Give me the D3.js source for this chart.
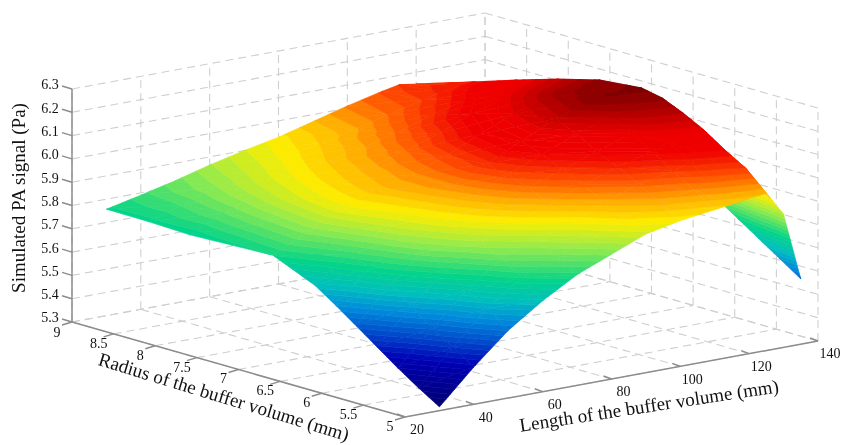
<!DOCTYPE html>
<html>
<head>
<meta charset="utf-8">
<script src="https://cdn.jsdelivr.net/npm/d3@7"></script>
<style>
  html, body { margin: 0; background: #fff; }
  text { font-family: "Liberation Serif", serif; fill: #111; }
</style>
</head>
<body>
<div id="chart"></div>
<script>
// Values
const lengthTicks = [20, 40, 60, 80, 100, 120, 140];
const radiusTicks = [5, 5.5, 6, 6.5, 7, 7.5, 8, 8.5, 9];
const signalTicks = [5.3, 5.4, 5.5, 5.6, 5.7, 5.8, 5.9, 6.0, 6.1, 6.2, 6.3];

const lengths = [30, 40, 50, 60, 70, 80, 90, 100, 110, 115, 120, 125, 130, 135];
const radii = [5, 5.25, 5.5, 5.75, 6, 6.25, 6.5, 7, 7.5, 8, 8.5, 9];

const signalR500 = [5.316, 5.46, 5.59, 5.69, 5.775, 5.835, 5.895, 5.925, 5.945, 5.955, 5.965, 5.975, 5.87, 5.58];
const signalR525 = [5.372, 5.52, 5.66, 5.765, 5.825, 5.88, 5.94, 5.98, 6.005, 6.025, 6.04, 6.058, 5.94, 5.64];
const signalR550 = [5.432, 5.575, 5.71, 5.82, 5.87, 5.92, 5.98, 6.03, 6.06, 6.085, 6.10, 6.11, 5.98, 5.70];
const signalR575 = [5.497, 5.645, 5.775, 5.865, 5.92, 5.975, 6.03, 6.08, 6.12, 6.145, 6.16, 6.17, 6.04, 5.76];
const signalR600 = [5.562, 5.715, 5.83, 5.90, 5.96, 6.02, 6.07, 6.12, 6.17, 6.20, 6.21, 6.217, 6.10, 5.82];
const signalR625 = [5.626, 5.76, 5.86, 5.925, 5.985, 6.05, 6.11, 6.17, 6.22, 6.24, 6.25, 6.256, 6.14, 5.87];
const signalR650 = [5.686, 5.79, 5.88, 5.94, 6.00, 6.07, 6.14, 6.21, 6.26, 6.27, 6.27, 6.274, 6.16, 5.92];
const signalR700 = [5.763, 5.84, 5.915, 5.965, 6.00, 6.05, 6.12, 6.18, 6.23, 6.245, 6.25, 6.257, 6.16, 5.97];
const signalR750 = [5.756, 5.83, 5.90, 5.945, 5.98, 6.02, 6.07, 6.13, 6.175, 6.19, 6.20, 6.21, 6.13, 5.96];
const signalR800 = [5.749, 5.815, 5.875, 5.92, 5.955, 5.985, 6.025, 6.07, 6.11, 6.13, 6.145, 6.155, 6.08, 5.94];
const signalR850 = [5.755, 5.80, 5.85, 5.89, 5.925, 5.955, 5.985, 6.025, 6.06, 6.08, 6.09, 6.096, 6.04, 5.92];
const signalR900 = [5.757, 5.79, 5.825, 5.865, 5.90, 5.93, 5.97, 6.01, 6.045, 6.06, 6.05, 6.036, 6.0, 5.90];
const signal = [signalR500, signalR525, signalR550, signalR575, signalR600, signalR625, signalR650, signalR700, signalR750, signalR800, signalR850, signalR900];

const width = 843, height = 445;
const bandCount = 56;

const svg = d3.select("#chart").append("svg")
  .attr("width", width)
  .attr("height", height)
  .style("display", "block")
  .style("filter", "blur(0.4px)");

// Fixed oblique view: each axis moves the point along its own screen vector
const lenX = d3.scaleLinear().domain([20, 140]).range([0, 413]);
const lenY = d3.scaleLinear().domain([20, 140]).range([0, -76]);
const radX = d3.scaleLinear().domain([5, 9]).range([0, -333]);
const radY = d3.scaleLinear().domain([5, 9]).range([0, -95]);
const sigY = d3.scaleLinear().domain([5.3, 6.3]).range([0, -233]);
const project = (l, r, s) => [405 + lenX(l) + radX(r), 417 + lenY(l) + radY(r) + sigY(s)];

// Jet-like map, cut into flat bands
const zMin = 5.31, zMax = 6.285;
const frac = d3.scaleLinear().domain([zMin, zMax]).range([0, 1]);
const colorStops = [0, 0.16, 0.225, 0.32, 0.385, 0.46, 0.55, 0.63, 0.69, 0.75, 0.82, 0.88, 0.92, 1];
const colorValues = ["#00006e", "#0000b4", "#003cc8", "#008cdc", "#00bebe", "#04d488", "#8cea50", "#fcee00", "#ffac00", "#ff5000", "#f00000", "#ee0000", "#c80000", "#720000"];
const jet = d3.scaleLinear().domain(colorStops).range(colorValues).interpolate(d3.interpolateRgb);
const thresholds = d3.range(bandCount + 1).map(i => frac.invert(i / bandCount));

const lineGray = "#cfcfcf", axisGray = "#8c8c8c";
const grid = svg.append("g").attr("fill", "none").attr("stroke", lineGray)
  .attr("stroke-width", 1.1).attr("stroke-dasharray", "8,5");

function gridLine(a, b) {
  grid.append("path").attr("d", d3.line()([project(...a), project(...b)]));
}
signalTicks.forEach(s => {
  gridLine([20, 9, s], [140, 9, s]);
  gridLine([140, 9, s], [140, 5, s]);
});
lengthTicks.forEach(l => {
  gridLine([l, 9, 5.3], [l, 9, 6.3]);
  gridLine([l, 5, 5.3], [l, 9, 5.3]);
});
radiusTicks.forEach(r => {
  gridLine([140, r, 5.3], [140, r, 6.3]);
  gridLine([20, r, 5.3], [140, r, 5.3]);
});

// Keep the part of a polygon on one side of a signal level
function clipLevel(poly, level, keepAbove) {
  const out = [];
  poly.forEach((p, i) => {
    const q = poly[(i + 1) % poly.length];
    const pIn = keepAbove ? p[2] >= level : p[2] <= level;
    const qIn = keepAbove ? q[2] >= level : q[2] <= level;
    if (pIn) out.push(p);
    if (pIn !== qIn) {
      const t = (level - p[2]) / (q[2] - p[2]);
      out.push([p[0] + t * (q[0] - p[0]), p[1] + t * (q[1] - p[1]), level]);
    }
  });
  return out;
}

const surface = svg.append("g");
function drawTriangle(tri) {
  for (let b = 0; b < bandCount; b++) {
    let poly = clipLevel(tri, thresholds[b], true);
    if (poly.length < 3) continue;
    poly = clipLevel(poly, thresholds[b + 1], false);
    if (poly.length < 3) continue;
    const c = jet((b + 0.5) / bandCount);
    surface.append("polygon")
      .attr("points", poly.map(p => project(...p).join(",")).join(" "))
      .attr("fill", c).attr("stroke", c).attr("stroke-width", 0.6);
  }
}

// Back to front: far radius and far length first
for (let j = radii.length - 2; j >= 0; j--) {
  for (let i = lengths.length - 2; i >= 0; i--) {
    const p00 = [lengths[i], radii[j], signal[j][i]];
    const p10 = [lengths[i + 1], radii[j], signal[j][i + 1]];
    const p01 = [lengths[i], radii[j + 1], signal[j + 1][i]];
    const p11 = [lengths[i + 1], radii[j + 1], signal[j + 1][i + 1]];
    drawTriangle([p10, p11, p01]);
    drawTriangle([p00, p10, p01]);
  }
}

// Axes
const axes = svg.append("g").attr("fill", "none").attr("stroke", axisGray).attr("stroke-width", 1.5);
function axisLine(a, b) {
  axes.append("path").attr("d", d3.line()([a, b]));
}
axisLine(project(20, 9, 5.3), project(20, 9, 6.3));
axisLine(project(20, 9, 5.3), project(20, 5, 5.3));
axisLine(project(20, 5, 5.3), project(140, 5, 5.3));

function tickText(p, str) {
  svg.append("text").attr("x", p[0]).attr("y", p[1]).attr("dy", "0.35em")
    .attr("text-anchor", "middle").attr("font-size", 14).text(str);
}
signalTicks.forEach(s => {
  const p = project(20, 9, s);
  axisLine(p, [p[0] - 10, p[1] - 3]);
  tickText([p[0] - 22, p[1] - 4.5], s.toFixed(1));
});
radiusTicks.forEach(r => {
  const p = project(20, r, 5.3);
  axisLine(p, [p[0] - 10, p[1] + 3]);
  tickText([p[0] - 15, p[1] + (r === 9 ? 10.5 : 9)], String(r));
});
lengthTicks.forEach(l => {
  const p = project(l, 5, 5.3);
  axisLine(p, [p[0] - 8, p[1] - 3]);
  tickText([p[0] + 12, p[1] + 12.5], String(l));
});

// Axis titles
function title(x, y, angle, str) {
  svg.append("text").attr("transform", `translate(${x},${y}) rotate(${angle})`)
    .attr("text-anchor", "middle").attr("font-size", 19).text(str);
}
title(25, 198, -90, "Simulated PA signal (Pa)");
title(222, 403, 17, "Radius of the buffer volume (mm)");
title(650, 412, -8.7, "Length of the buffer volume (mm)");
</script>
</body>
</html>
